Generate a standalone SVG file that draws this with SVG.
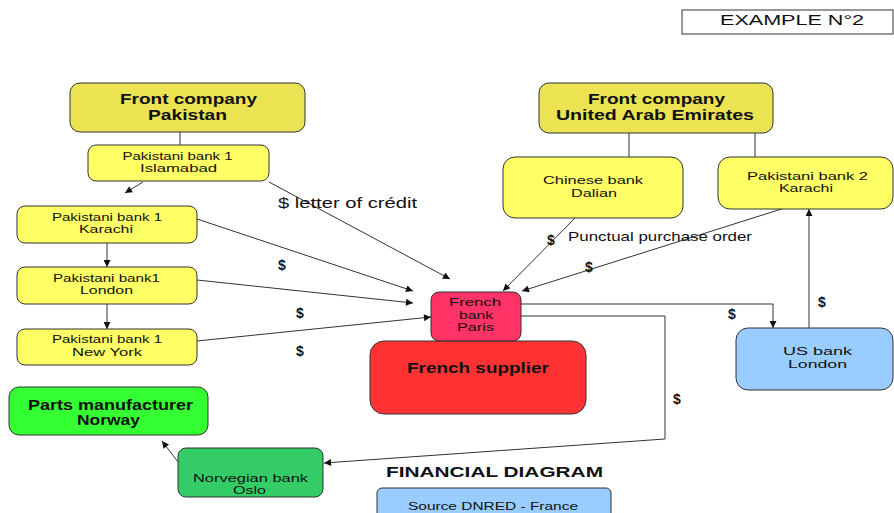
<svg xmlns="http://www.w3.org/2000/svg" width="894" height="513" viewBox="0 0 894 513">
  <style>
    text { font-family: "Liberation Sans", Arial, sans-serif; fill: #111; text-anchor: middle; }
    .box { stroke: #333; stroke-width: 1; }
    .front { fill: #ebe352; }
    .bank { fill: #ffff66; }
    .title { font-size: 15px; font-weight: bold; }
    .small { font-size: 11.5px; }
    .dollar { font-size: 14px; font-weight: bold; text-anchor: start; }
    .note { text-anchor: start; }
    .conn { fill: none; stroke: #333; stroke-width: 1; }
  </style>
  <defs>
    <marker id="arrow" viewBox="0 0 10 10" refX="10" refY="5" markerWidth="8" markerHeight="7" markerUnits="userSpaceOnUse" orient="auto">
      <path d="M0,0 L10,5 L0,10 z" fill="#111"/>
    </marker>
  </defs>

  <rect width="894" height="513" fill="#fff"/>

  <!-- header label -->
  <g id="example">
    <rect x="682" y="10" width="211" height="24" fill="#fff" stroke="#333"/>
    <text x="792" y="24.5" font-size="15" textLength="144" lengthAdjust="spacingAndGlyphs">EXAMPLE N°2</text>
  </g>

  <!-- connectors -->
  <g id="connectors" class="conn">
    <line x1="180" y1="132" x2="180" y2="145"/>
    <line x1="143" y1="182" x2="125" y2="193" marker-end="url(#arrow)"/>
    <line x1="107" y1="243" x2="107" y2="267" marker-end="url(#arrow)"/>
    <line x1="107" y1="304" x2="107" y2="329" marker-end="url(#arrow)"/>
    <line x1="269" y1="182" x2="450" y2="279" marker-end="url(#arrow)"/>
    <line x1="197" y1="219" x2="413" y2="291" marker-end="url(#arrow)"/>
    <line x1="197" y1="280" x2="413" y2="303" marker-end="url(#arrow)"/>
    <line x1="197" y1="341" x2="431" y2="317" marker-end="url(#arrow)"/>
    <line x1="629" y1="133" x2="629" y2="157"/>
    <line x1="755" y1="133" x2="755" y2="157"/>
    <line x1="575" y1="218" x2="503" y2="291" marker-end="url(#arrow)"/>
    <line x1="791" y1="206" x2="522" y2="291" marker-end="url(#arrow)"/>
    <polyline points="521,304 773,304 773,328" marker-end="url(#arrow)"/>
    <line x1="809" y1="328" x2="809" y2="209" marker-end="url(#arrow)"/>
    <polyline points="521,316 665,316 665,439 324,463" marker-end="url(#arrow)"/>
    <line x1="178" y1="462" x2="162" y2="441" marker-end="url(#arrow)"/>
  </g>

  <!-- connector labels -->
  <g id="labels">
    <text class="note" x="278" y="208" font-size="15" textLength="139" lengthAdjust="spacingAndGlyphs">$ letter of crédit</text>
    <text class="dollar" x="278" y="270">$</text>
    <text class="dollar" x="296" y="318">$</text>
    <text class="dollar" x="296" y="356">$</text>
    <text class="dollar" x="547" y="245">$</text>
    <text class="note" x="568" y="241" font-size="13" textLength="184" lengthAdjust="spacingAndGlyphs">Punctual purchase order</text>
    <text class="dollar" x="585" y="272">$</text>
    <text class="dollar" x="728" y="319">$</text>
    <text class="dollar" x="818" y="307">$</text>
    <text class="dollar" x="673" y="404">$</text>
  </g>

  <!-- Pakistan chain -->
  <g id="front-pakistan">
    <rect class="box front" x="70" y="83" width="235" height="49" rx="10"/>
    <text class="title" x="188.5" y="104" textLength="137" lengthAdjust="spacingAndGlyphs">Front company</text>
    <text class="title" x="187.5" y="120" textLength="79" lengthAdjust="spacingAndGlyphs">Pakistan</text>
  </g>
  <g id="pk1-islamabad">
    <rect class="box bank" x="88" y="145" width="181" height="36" rx="8"/>
    <text class="small" x="177.5" y="160" textLength="110" lengthAdjust="spacingAndGlyphs">Pakistani bank 1</text>
    <text class="small" x="178.5" y="172" textLength="77" lengthAdjust="spacingAndGlyphs">Islamabad</text>
  </g>
  <g id="pk1-karachi">
    <rect class="box bank" x="17" y="206" width="180" height="37" rx="8"/>
    <text class="small" x="107" y="221" textLength="110" lengthAdjust="spacingAndGlyphs">Pakistani bank 1</text>
    <text class="small" x="106" y="233" textLength="54" lengthAdjust="spacingAndGlyphs">Karachi</text>
  </g>
  <g id="pk1-london">
    <rect class="box bank" x="17" y="267" width="180" height="37" rx="8"/>
    <text class="small" x="106.5" y="282" textLength="107" lengthAdjust="spacingAndGlyphs">Pakistani bank1</text>
    <text class="small" x="106.5" y="294" textLength="53" lengthAdjust="spacingAndGlyphs">London</text>
  </g>
  <g id="pk1-newyork">
    <rect class="box bank" x="17" y="329" width="180" height="36" rx="8"/>
    <text class="small" x="107" y="343" textLength="110" lengthAdjust="spacingAndGlyphs">Pakistani bank 1</text>
    <text class="small" x="107" y="356" textLength="70" lengthAdjust="spacingAndGlyphs">New York</text>
  </g>

  <!-- UAE chain -->
  <g id="front-uae">
    <rect class="box front" x="539" y="83" width="234" height="50" rx="10"/>
    <text class="title" x="656.5" y="104" textLength="137" lengthAdjust="spacingAndGlyphs">Front company</text>
    <text class="title" x="655" y="119.5" textLength="198" lengthAdjust="spacingAndGlyphs">United Arab Emirates</text>
  </g>
  <g id="chinese-bank">
    <rect class="box bank" x="503" y="157" width="180" height="61" rx="12"/>
    <text class="small" x="593" y="184" textLength="100" lengthAdjust="spacingAndGlyphs">Chinese bank</text>
    <text class="small" x="594" y="197" textLength="46" lengthAdjust="spacingAndGlyphs">Dalian</text>
  </g>
  <g id="pk2-karachi">
    <rect class="box bank" x="718" y="157" width="175" height="52" rx="12"/>
    <text class="small" x="807.5" y="180" textLength="121" lengthAdjust="spacingAndGlyphs">Pakistani bank 2</text>
    <text class="small" x="806" y="192" textLength="54" lengthAdjust="spacingAndGlyphs">Karachi</text>
  </g>

  <!-- France -->
  <g id="french-supplier">
    <rect class="box" x="370" y="341" width="216" height="73" rx="14" fill="#ff3333"/>
    <text class="title" x="478" y="373" textLength="142" lengthAdjust="spacingAndGlyphs">French supplier</text>
  </g>
  <g id="french-bank">
    <rect class="box" x="431" y="292" width="90" height="49" rx="8" fill="#ff3366"/>
    <text class="small" x="475" y="306" textLength="52" lengthAdjust="spacingAndGlyphs">French</text>
    <text class="small" x="476" y="319" textLength="34" lengthAdjust="spacingAndGlyphs">bank</text>
    <text class="small" x="475.5" y="331" textLength="37" lengthAdjust="spacingAndGlyphs">Paris</text>
  </g>

  <!-- US bank -->
  <g id="us-bank">
    <rect class="box" x="736" y="328" width="157" height="62" rx="12" fill="#99ccff"/>
    <text class="small" x="817.5" y="355" textLength="69" lengthAdjust="spacingAndGlyphs">US bank</text>
    <text class="small" x="817.5" y="368" textLength="59" lengthAdjust="spacingAndGlyphs">London</text>
  </g>

  <!-- Norway -->
  <g id="parts-norway">
    <rect class="box" x="9" y="387" width="199" height="48" rx="10" fill="#33ff33"/>
    <text x="110.5" y="410" font-size="14.5" font-weight="bold" textLength="165" lengthAdjust="spacingAndGlyphs">Parts manufacturer</text>
    <text x="108.5" y="425" font-size="14.5" font-weight="bold" textLength="63" lengthAdjust="spacingAndGlyphs">Norway</text>
  </g>
  <g id="norvegian-bank">
    <rect class="box" x="178" y="448" width="145" height="49" rx="8" fill="#33cc66"/>
    <text class="small" x="250.5" y="482" textLength="115" lengthAdjust="spacingAndGlyphs">Norvegian bank</text>
    <text class="small" x="249.5" y="494" textLength="33" lengthAdjust="spacingAndGlyphs">Oslo</text>
  </g>

  <!-- caption -->
  <g id="caption">
    <text class="title" x="494.5" y="477" textLength="217" lengthAdjust="spacingAndGlyphs">FINANCIAL DIAGRAM</text>
  </g>
  <g id="source">
    <rect class="box" x="377" y="488" width="234" height="30" rx="5" fill="#99ccff"/>
    <text class="small" x="493" y="510" textLength="170" lengthAdjust="spacingAndGlyphs">Source DNRED - France</text>
  </g>
</svg>
